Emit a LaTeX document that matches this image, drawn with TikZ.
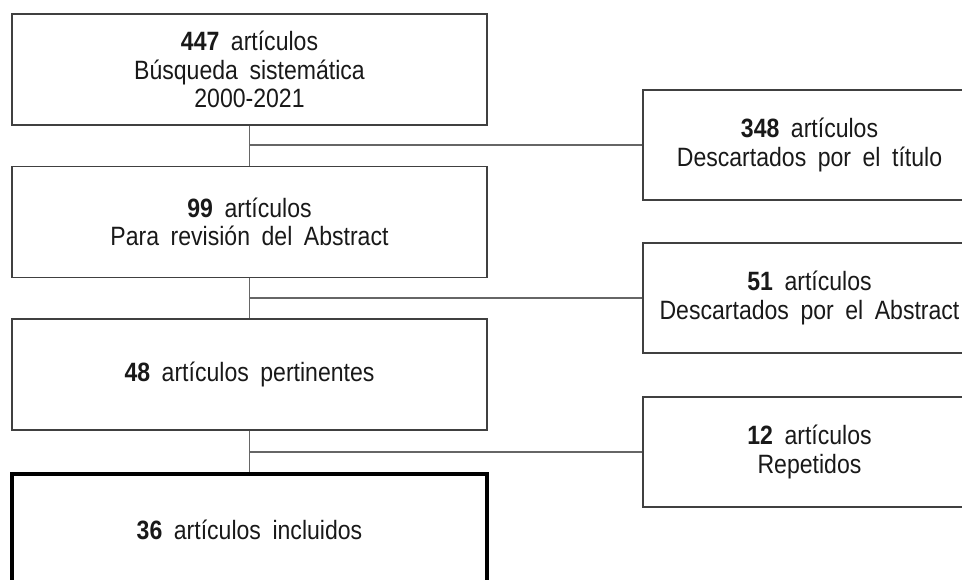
\documentclass[tikz,border=0pt]{standalone}
\usepackage{fontspec}
\setmainfont[WordSpace=1.8, FakeStretch=0.87]{Liberation Sans}
\begin{document}
\begin{tikzpicture}[x=1pt,y=-1pt,
  box/.style={draw=black!75, line width=1.4pt, rectangle, align=center,
    font=\fontsize{26.5}{28.5}\selectfont, text=black!90, inner sep=0pt},
  lbox/.style={box, minimum width=475pt, minimum height=111pt},
  rbox/.style={box, minimum width=333pt, minimum height=110pt},
  conn/.style={draw=black!60, line width=1.4pt}]
\useasboundingbox (0,0) rectangle (962,580);
\clip (0,0) rectangle (962,580);
\node[lbox] (b1) at (249.5,69.5) {\textbf{447} artículos\\Búsqueda sistemática\\2000-2021};
\node[lbox] (b2) at (249.5,222) {\textbf{99} artículos\\Para revisión del Abstract};
\node[lbox] (b3) at (249.5,374.5) {\textbf{48} artículos pertinentes};
\node[lbox, draw=black, line width=4pt, minimum height=112pt] (b4) at (249.5,530) {\textbf{36} artículos incluidos};
\node[rbox] (r1) at (809.5,145) {\textbf{348} artículos\\Descartados por el título};
\node[rbox] (r2) at (809.5,298) {\textbf{51} artículos\\Descartados por el Abstract};
\node[rbox] (r3) at (809.5,452) {\textbf{12} artículos\\Repetidos};
\draw[conn] (b1.south) -- (b2.north);
\draw[conn] (b2.south) -- (b3.north);
\draw[conn] (b3.south) -- (b4.north);
\draw[conn] (r1.west -| b1.south) -- (r1.west);
\draw[conn] (r2.west -| b2.south) -- (r2.west);
\draw[conn] (r3.west -| b3.south) -- (r3.west);
\end{tikzpicture}
\end{document}
